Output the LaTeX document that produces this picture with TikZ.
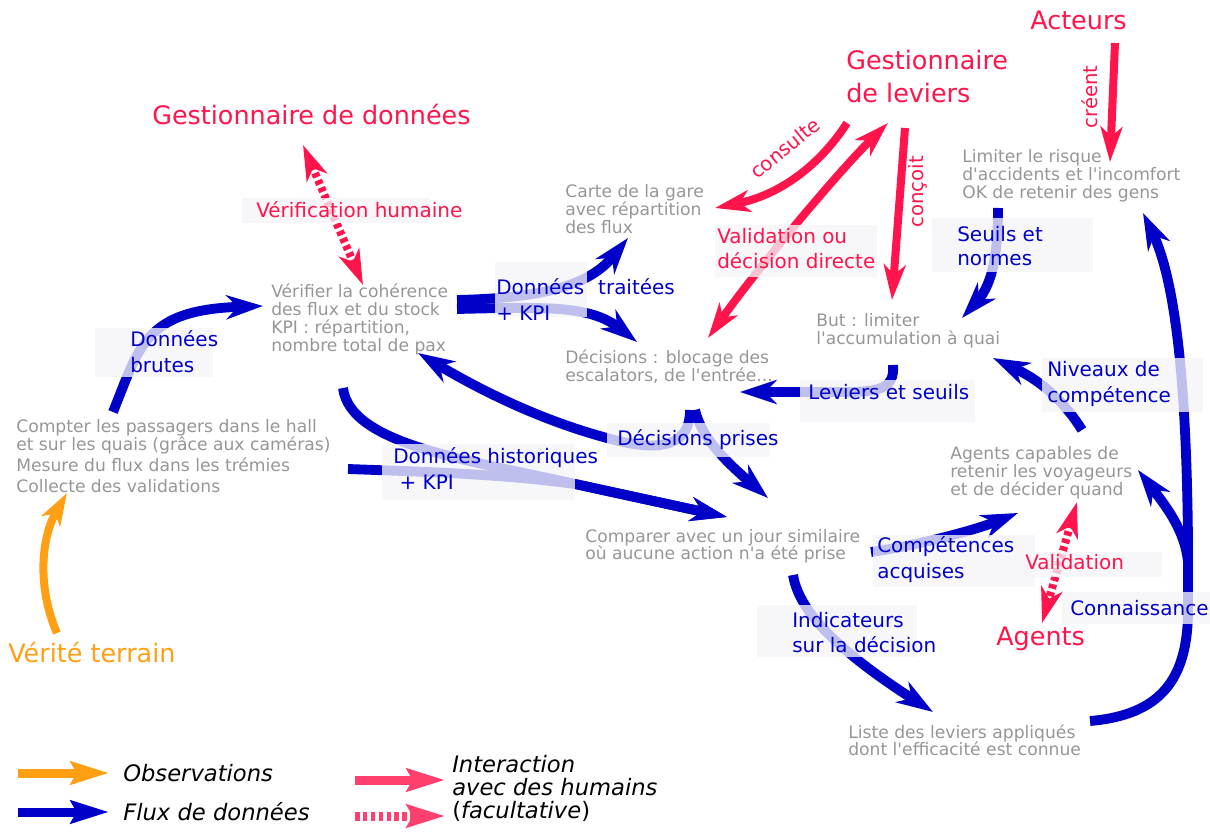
\documentclass[tikz,border=0pt]{standalone}
\usepackage{fontspec}
\setmainfont{DejaVu Sans}
\usetikzlibrary{arrows.meta}

\definecolor{flux}{RGB}{0,0,200}
\definecolor{humain}{RGB}{255,20,75}
\definecolor{humainclair}{RGB}{255,64,110}
\definecolor{terrain}{RGB}{255,160,20}
\definecolor{note}{RGB}{150,150,150}
\definecolor{voilecol}{RGB}{245,245,248}

% multi-line text whose baseline is the first line, with fixed line pitch
\newcommand\stack[1]{\vtop{\let\\\cr\lineskiplimit=-\maxdimen\halign{##\hfil\cr#1\crcr}}}
\newcommand\apos{\textquotesingle}

\tikzset{
  note/.style={anchor=base west, inner sep=0pt, text=note,
    font=\fontsize{12.2pt}{12.6pt}\selectfont},
  fluxlbl/.style={anchor=base west, inner sep=0pt, text=flux,
    font=\fontsize{14.2pt}{17.8pt}\selectfont},
  humlbl/.style={anchor=base west, inner sep=0pt, text=humain,
    font=\fontsize{14.2pt}{17.1pt}\selectfont},
  actor/.style={anchor=base west, inner sep=0pt, text=humain,
    font=\fontsize{18.1pt}{22.8pt}\selectfont},
  verb/.style={inner sep=0pt, text=humain, font=\fontsize{14pt}{16pt}\selectfont},
  legtxt/.style={anchor=base west, inner sep=0pt, text=black,
    font=\fontsize{16.1pt}{16.6pt}\selectfont\itshape},
  voile/.style={fill=voilecol, fill opacity=0.78},
  fluxhead/.tip={Stealth[length=26pt, width=17pt, inset=8pt]},
  humhead/.tip={Stealth[length=25pt, width=15.5pt, inset=7pt]},
  leghead/.tip={Stealth[length=27pt, width=16pt, inset=4pt]},
  fluxarrow/.style={draw=flux, line width=7pt, -fluxhead},
  humarrow/.style={draw=humain, line width=5.7pt, -humhead},
  humboth/.style={draw=humain, line width=5.7pt, humhead-humhead},
  humdots/.style={draw=humain, line width=5.7pt, dash pattern=on 3.2pt off 2.4pt,
    humhead-humhead},
  terrainarrow/.style={draw=terrain, line width=5.7pt,
    -{Stealth[length=23pt, width=15pt, inset=6pt]}},
}

\begin{document}
\begin{tikzpicture}[x=0.025cm, y=-0.025cm]
\useasboundingbox (0,0) rectangle (1210,832);

% ---------- text blocks ----------
\node[note] (verifier) at (271,298)
  {\stack{Vérifier la cohérence\\des flux et du stock\\KPI : répartition,\\nombre total de pax}};
\node[note] (compter) at (16,433)
  {\stack{Compter les passagers dans le hall\\et sur les quais (grâce aux caméras)}};
\node[note] (mesure) at (16,472) {Mesure du flux dans les trémies};
\node[note] (collecte) at (16,493) {Collecte des validations};
\node[note] (carte) at (565,198) {\stack{Carte de la gare\\avec répartition\\des flux}};
\node[note] (decisions) at (565,364)
  {\stack{Décisions : blocage des\\escalators, de l\apos entrée...}};
\node[note] (but) at (816,327) {\stack{But : limiter\\l\apos accumulation à quai}};
\node[note] (limiter) at (962,163)
  {\stack{Limiter le risque\\d\apos accidents et l\apos incomfort\\OK de retenir des gens}};
\node[note] (capables) at (950,460)
  {\stack{Agents capables de\\retenir les voyageurs\\et de décider quand}};
\node[note] (comparer) at (585,542)
  {\stack{Comparer avec un jour similaire\\où aucune action n\apos a été prise}};
\node[note] (liste) at (848,738)
  {\stack{Liste des leviers appliqués\\dont l\apos efficacité est connue}};

% ---------- actors ----------
\node[actor] (gdonnees) at (152,125) {Gestionnaire de données};
\node[actor] (gleviers) at (846,70) {\stack{Gestionnaire\\de leviers}};
\node[actor] (acteurs) at (1030,30) {Acteurs};
\node[actor] (agents) at (996,645) {Agents};
\node[actor, text=terrain] (verite) at (8,662) {Vérité terrain};

% ---------- connector end points ----------
\coordinate (brutes-s) at (113,412);
\coordinate (brutes-e) at (263,306);
\coordinate (traite-s1) at (457,300);
\coordinate (traite-s2) at (457,309);
\coordinate (traite-carte) at (628,238);
\coordinate (traite-dec) at (637,342);
\coordinate (prises-s1) at (690,410);
\coordinate (prises-s2) at (695,410);
\coordinate (prises-verif) at (418,353);
\coordinate (prises-comp) at (768,498);
\coordinate (histo-s1) at (343,388);
\coordinate (histo-s2) at (348,469);
\coordinate (histo-m) at (575,484);
\coordinate (histo-e) at (727,517);
\coordinate (leviers-s) at (893,365);
\coordinate (leviers-e) at (740,392);
\coordinate (seuils-s) at (998,208);
\coordinate (seuils-e) at (962,318);
\coordinate (niveaux-s) at (1082,430);
\coordinate (niveaux-e) at (993,358);
\coordinate (compet-s) at (871,552);
\coordinate (compet-e) at (1018,513);
\coordinate (indic-s) at (793,575);
\coordinate (indic-e) at (933,712);
\coordinate (conn-s) at (1090,721);
\coordinate (conn-a) at (1188,610);
\coordinate (conn-b) at (1188,545);
\coordinate (conn-e) at (1143,213);
\coordinate (conn-fork) at (1188,562);
\coordinate (conn-agents) at (1138,470);
\coordinate (terrain-s) at (57,633);
\coordinate (terrain-e) at (67,493);
\coordinate (verifh-a) at (303,145);
\coordinate (verifh-b) at (363,285);
\coordinate (consulte-s) at (847,123);
\coordinate (consulte-e) at (715,208);
\coordinate (valdir-a) at (888,123);
\coordinate (valdir-b) at (708,338);
\coordinate (concoit-s) at (905,128);
\coordinate (concoit-e) at (892,300);
\coordinate (creent-s) at (1115,43);
\coordinate (creent-e) at (1110,162);
\coordinate (valag-a) at (1077,502);
\coordinate (valag-b) at (1042,623);

% ---------- data flows ----------
\draw[fluxarrow] (brutes-s) .. controls (140,345) and (145,310) .. (brutes-e);
\draw[fluxarrow] (traite-s1) .. controls (545,298) and (590,285) .. (traite-carte);
\draw[fluxarrow] (traite-s2) .. controls (545,307) and (590,305) .. (traite-dec);
\draw[fluxarrow] (prises-s1) .. controls (690,452) and (650,450) .. (607,438)
  .. controls (540,420) and (480,390) .. (prises-verif);
\draw[fluxarrow] (prises-s2) .. controls (702,440) and (730,465) .. (prises-comp);
\draw[fluxarrow] (histo-s1) .. controls (350,445) and (470,460) .. (histo-m) -- (histo-e);
\draw[fluxarrow] (histo-s2) .. controls (430,472) and (500,474) .. (histo-m) -- (histo-e);
\draw[fluxarrow] (leviers-s) .. controls (895,388) and (880,392) .. (845,392) -- (leviers-e);
\draw[fluxarrow] (seuils-s) .. controls (998,262) and (990,287) .. (seuils-e);
\draw[fluxarrow] (niveaux-s) .. controls (1060,395) and (1035,378) .. (niveaux-e);
\draw[fluxarrow] (compet-s) .. controls (920,545) and (975,530) .. (compet-e);
\draw[fluxarrow] (indic-s) .. controls (800,620) and (860,665) .. (indic-e);
\draw[fluxarrow] (conn-s) .. controls (1160,715) and (1188,680) .. (conn-a) -- (conn-b)
  .. controls (1187,420) and (1180,290) .. (conn-e);
\draw[fluxarrow] (conn-fork) .. controls (1185,530) and (1165,505) .. (conn-agents);

% ---------- observation ----------
\draw[terrainarrow] (terrain-s) .. controls (38,590) and (40,540) .. (terrain-e);

% ---------- human interactions ----------
\draw[humdots] (verifh-a) -- (verifh-b);
\draw[humarrow] (consulte-s) .. controls (820,165) and (780,195) .. (consulte-e);
\draw[humboth] (valdir-a) .. controls (840,170) and (760,265) .. (valdir-b);
\draw[humarrow] (concoit-s) -- (concoit-e);
\draw[humarrow] (creent-s) -- (creent-e);
\draw[humdots] (valag-a) -- (valag-b);

% ---------- label veils ----------
\fill[voile] (95,328) rectangle (213,377);
\fill[voile] (495,262) rectangle (587,317);
\fill[voile] (607,423) rectangle (770,457);
\fill[voile] (382,444) rectangle (575,500);
\fill[voile] (800,380) rectangle (975,422);
\fill[voile] (932,218) rectangle (1093,272);
\fill[voile] (1042,358) rectangle (1203,412);
\fill[voile] (873,535) rectangle (1035,587);
\fill[voile] (757,605) rectangle (917,657);
\fill[voile] (1062,592) rectangle (1210,624);
\fill[voile] (1023,552) rectangle (1162,577);
\fill[voile] (715,225) rectangle (877,277);
\fill[voile] (242,198) rectangle (430,223);

% ---------- flow labels ----------
\node[fluxlbl] (l-brutes) at (130,347) {\stack{Données\\brutes}};
\node[fluxlbl] (l-traitees) at (496,295) {\stack{Données\hspace{10pt}traitées\\+ KPI}};
\node[fluxlbl] (l-prises) at (617,446) {Décisions prises};
\node[fluxlbl] (l-histo) at (393,464) {\stack{Données historiques\\\hspace{4.5pt}+ KPI}};
\node[fluxlbl] (l-leviers) at (808,400) {Leviers et seuils};
\node[fluxlbl, font=\fontsize{14.2pt}{17pt}\selectfont] (l-seuils) at (957,242) {\stack{Seuils et\\normes}};
\node[fluxlbl] (l-niveaux) at (1047,377) {\stack{Niveaux de\\compétence}};
\node[fluxlbl] (l-compet) at (877,553) {\stack{Compétences\\acquises}};
\node[fluxlbl] (l-indic) at (792,627) {\stack{Indicateurs\\sur la décision}};
\node[fluxlbl] (l-conn) at (1070,615) {Connaissance};

% ---------- interaction labels ----------
\node[humlbl] (l-verifh) at (256,218) {Vérification humaine};
\node[humlbl] (l-valdir) at (717,244) {\stack{Validation ou\\décision directe}};
\node[humlbl] (l-valag) at (1025,570) {Validation};
\node[verb, rotate=39] (l-consulte) at (785,148) {consulte};
\node[verb, rotate=90] (l-concoit) at (918,192) {conçoit};
\node[verb, rotate=90] (l-creent) at (1090,97) {créent};

% ---------- legend ----------
\coordinate (lg-o-s) at (18,773);
\coordinate (lg-o-e) at (109,773);
\coordinate (lg-b-s) at (18,812);
\coordinate (lg-b-e) at (109,812);
\coordinate (lg-r-s) at (355,780);
\coordinate (lg-r-e) at (445,780);
\coordinate (lg-d-s) at (355,816);
\coordinate (lg-d-e) at (445,816);
\draw[draw=terrain, line width=6.4pt, -leghead] (lg-o-s) -- (lg-o-e);
\draw[draw=flux, line width=6.4pt, -leghead] (lg-b-s) -- (lg-b-e);
\draw[draw=humainclair, line width=6.4pt, -leghead] (lg-r-s) -- (lg-r-e);
\draw[draw=humainclair, line width=6.4pt, dash pattern=on 3.2pt off 2.4pt, -leghead] (lg-d-s) -- (lg-d-e);
\node[legtxt] (lg-obs) at (123,781) {Observations};
\node[legtxt] (lg-flux) at (123,820) {Flux de données};
\node[legtxt] (lg-hum) at (452,772)
  {\stack{Interaction\\avec des humains\\{\upshape(}facultative{\upshape)}}};

\end{tikzpicture}
\end{document}
